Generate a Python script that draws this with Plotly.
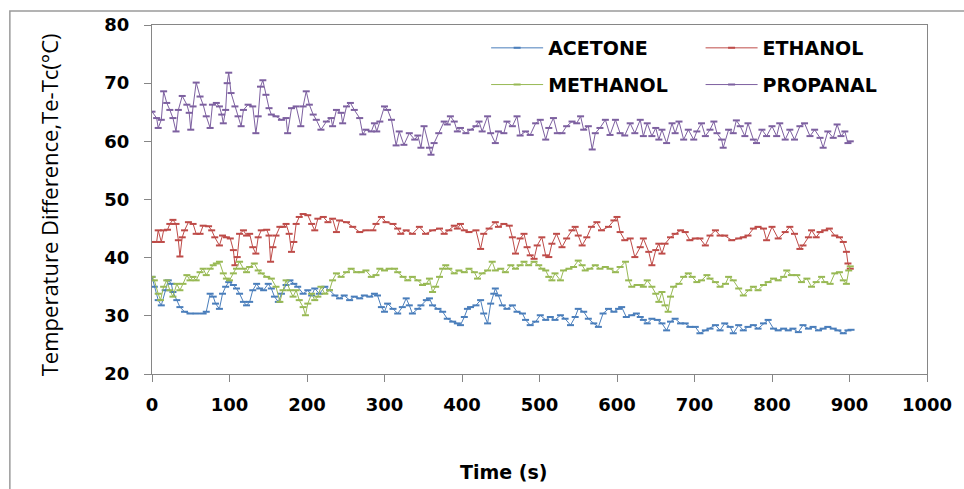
import plotly.graph_objects as go

# ---------------- data ----------------
acetone_t = [0,3,8,12,17,21,25,27,32,36,42,49,57,66,70,75,79,82,87,91,95,99,105,109,113,118,122,126,130,135,139,144,150,154,158,163,167,173,178,183,188,195,201,206,210,216,223,229,236,242,248,255,261,268,274,281,287,291,296,300,304,311,317,
             323,328,332,336,343,347,354,358,362,369,375,381,388,394,398,403,407,411,418,424,428,433,437,441,443,447,452,458,465,471,478,482,488,495,501,508,514,520,527,533,540,546,550,557,563,570,576,582,589,596,602,606,612,619,625,
             630,634,639,645,652,658,664,669,675,682,688,694,701,707,714,720,727,733,739,746,750,757,763,769,776,782,789,795,802,808,815,821,827,834,840,847,853,860,866,872,879,885,892,898,902]
acetone_v = [36.7,35.0,32.7,31.8,34.4,36.1,35.5,34.1,32.7,31.5,30.7,30.4,30.4,30.4,30.7,33.8,33.3,32.1,31.2,33.8,35.0,35.8,35.3,34.7,33.8,32.4,31.8,32.4,34.4,35.5,34.7,34.4,35.5,34.7,33.3,32.4,33.8,35.3,36.1,35.5,35.0,33.8,34.4,33.5,34.7,33.8,35.0,34.4,33.5,33.0,33.5,32.7,33.3,33.0,33.5,33.3,33.8,33.5,31.5,30.7,32.1,31.2,30.4,
             31.5,33.0,31.8,30.4,31.2,31.8,32.7,33.0,31.8,31.2,30.7,29.5,29.0,28.7,28.4,29.8,31.2,31.5,31.8,32.7,30.4,28.7,32.1,33.8,34.7,33.5,31.8,31.2,31.8,30.7,30.4,29.3,28.4,29.0,30.1,29.3,29.8,29.3,30.1,29.5,28.4,29.8,31.2,30.7,29.5,28.7,28.1,30.4,31.2,30.7,31.2,31.5,29.8,30.1,30.4,
             29.8,29.3,28.7,29.5,29.3,28.7,27.5,29.0,29.5,28.7,28.7,28.1,28.1,27.0,27.5,27.8,28.4,27.5,28.7,28.1,27.0,28.4,27.5,28.1,28.4,27.8,28.7,29.3,27.8,27.5,27.8,27.5,27.8,27.2,28.4,27.8,28.1,27.5,27.8,28.1,27.8,27.5,27.0,27.5,27.6]

ethanol_t = [0,6,8,12,15,20,23,27,31,34,36,39,42,47,53,57,62,66,73,77,81,87,91,96,101,105,107,110,113,118,122,126,130,134,137,141,148,151,153,156,160,165,169,173,177,180,183,186,190,195,201,206,210,214,221,227,233,238,242,251,259,268,276,285,289,296,302,311,317,
             321,328,336,345,353,362,371,377,383,390,394,398,403,409,418,424,428,435,443,447,454,461,465,469,475,480,484,488,493,497,503,508,512,516,522,529,535,542,546,550,555,561,567,574,580,589,596,600,604,610,617,623,630,
             634,641,645,650,654,658,662,669,675,682,688,694,701,707,714,720,727,733,739,748,757,763,769,776,782,789,793,800,808,817,823,829,836,840,847,851,857,862,868,874,881,887,892,896,898,901]
ethanol_v = [42.7,42.7,44.7,42.7,44.7,44.8,45.8,46.5,45.8,43.0,40.2,43.5,44.7,46.1,45.8,44.1,44.1,45.5,45.4,44.7,43.5,42.1,43.8,43.5,43.3,41.3,38.7,40.1,44.1,44.7,43.8,44.1,41.8,40.7,43.5,44.7,44.8,43.8,39.3,41.8,43.8,45.3,45.3,45.8,44.1,41.0,42.7,45.8,47.0,47.5,47.3,45.8,44.7,46.7,47.0,46.1,46.7,44.4,46.4,46.1,45.3,44.4,44.7,44.7,45.8,47.0,46.1,45.8,45.0,
             44.1,44.7,44.1,45.3,44.1,44.7,45.0,44.1,44.7,45.5,45.0,45.8,44.7,44.4,44.7,41.5,44.1,45.0,46.1,45.3,45.8,45.5,43.5,40.7,43.3,44.1,41.8,40.4,39.8,42.1,43.5,40.4,40.1,42.4,44.1,41.8,43.3,44.7,45.3,43.8,42.1,43.5,45.3,46.1,44.7,45.3,46.4,47.0,44.4,43.0,43.3,40.1,41.8,
             43.3,41.0,38.7,41.3,42.4,40.7,42.4,43.5,44.1,44.7,44.4,43.0,43.3,43.3,42.1,43.8,44.7,43.8,43.8,43.0,43.3,43.5,43.8,45.0,45.3,45.0,43.0,45.3,43.3,44.4,45.3,44.1,41.5,42.1,43.5,44.7,43.5,44.4,44.7,45.0,43.8,43.5,42.7,41.0,39.0,38.1]

methanol_t = [0,3,8,11,15,19,23,27,32,36,40,45,49,53,57,62,66,70,75,79,83,87,92,96,100,105,109,113,118,122,126,132,137,141,148,154,160,165,169,173,178,182,186,190,195,198,201,206,210,214,218,223,229,233,238,244,251,257,264,270,276,283,289,294,300,306,313,317,
              324,330,336,343,349,354,358,362,366,371,375,379,383,390,396,403,409,416,420,426,433,439,443,450,456,463,469,475,480,486,493,499,503,508,512,516,520,527,531,538,544,550,555,559,565,572,578,585,591,598,604,611,615,619,626,
              630,634,639,645,650,654,658,662,666,669,673,680,686,692,697,703,709,716,720,727,733,740,744,750,757,763,770,776,782,789,795,802,808,815,819,825,832,838,845,851,857,864,868,875,881,887,892,896,899,901]
methanol_v = [36.7,36.1,33.8,32.7,35.0,36.1,34.4,33.3,35.5,34.4,35.5,37.0,36.1,36.7,36.1,37.5,38.1,37.0,38.1,38.7,39.0,39.3,37.3,36.4,36.1,37.3,38.1,39.3,38.1,37.5,38.4,39.0,37.8,37.3,36.7,36.4,35.0,32.4,34.4,36.1,34.4,33.3,34.4,32.7,31.5,30.1,32.1,33.8,32.7,33.3,35.0,33.8,34.4,36.1,37.3,36.7,37.5,38.1,37.5,37.5,37.8,36.7,37.0,38.1,37.8,38.1,38.1,37.5,
              36.7,36.1,36.7,36.1,35.3,35.5,36.4,34.1,35.0,36.7,38.1,38.7,38.1,37.3,37.8,37.5,38.1,37.5,36.4,37.3,37.8,39.3,37.8,38.1,37.5,38.7,38.1,38.7,39.3,38.7,39.3,38.7,38.1,37.8,36.7,36.1,37.3,36.1,37.8,38.1,38.4,39.5,38.7,37.8,38.1,38.7,38.1,38.4,38.1,37.5,38.4,39.3,36.1,35.0,35.3,
              35.3,35.0,36.1,35.0,33.8,32.4,34.1,31.8,30.7,33.3,35.0,35.5,36.7,37.3,36.7,35.8,36.1,37.0,36.4,35.8,35.0,35.5,36.7,36.1,34.7,33.5,34.4,35.0,34.4,35.3,35.8,36.4,36.1,36.7,37.8,37.0,37.0,35.8,36.4,35.0,35.8,36.7,35.8,35.5,37.3,37.5,36.1,35.5,37.8,38.5]

propanal_t = [0,6,8,12,15,19,23,27,31,34,39,45,48,50,53,57,62,66,70,75,78,83,87,90,92,95,97,99,102,107,111,115,118,124,130,134,137,140,143,147,151,154,160,167,173,175,180,186,192,195,199,203,208,212,218,225,231,233,238,244,246,251,256,261,268,272,276,283,287,290,294,300,304,309,315,
              319,325,332,339,343,347,351,358,360,364,370,377,381,385,390,394,398,405,411,418,422,426,433,437,443,447,454,458,465,471,475,482,488,495,501,508,512,518,523,529,535,542,548,553,557,563,568,572,578,585,591,598,604,610,617,623,630,
              634,639,645,650,654,658,664,671,675,680,686,692,699,703,709,714,720,725,729,735,737,744,750,754,759,765,769,776,780,787,793,800,806,810,817,823,829,836,842,849,855,862,866,872,879,884,889,894,898,901]
propanal_v = [65.1,64.0,62.3,63.7,68.6,66.6,65.4,64.0,61.7,65.4,67.8,66.3,64.9,62.0,66.0,70.1,67.7,66.3,64.3,62.3,66.3,66.6,66.0,64.6,63.1,65.4,70.0,71.8,68.3,66.0,64.3,62.6,65.4,66.3,66.0,61.4,64.3,69.4,70.5,68.0,65.7,64.6,64.3,63.7,64.0,61.4,65.7,66.0,62.6,66.0,68.6,66.3,64.6,63.7,62.0,63.4,64.0,62.6,65.4,64.9,63.1,66.0,66.6,65.4,64.0,61.2,62.0,61.7,63.1,61.7,63.4,66.0,65.4,63.7,59.3,
              61.7,59.4,61.4,60.3,61.0,58.9,62.6,58.9,57.7,59.7,61.4,63.4,62.9,64.3,63.4,61.7,62.3,61.4,62.0,62.6,63.4,61.7,64.3,61.4,59.7,61.7,61.4,63.4,62.6,64.3,61.0,61.7,61.1,63.1,63.7,60.3,62.3,64.0,61.4,61.4,62.6,63.4,63.1,64.3,62.0,62.6,58.6,61.4,62.3,63.7,61.1,63.7,61.4,61.0,63.1,61.4,63.7,
              60.9,63.1,60.9,62.3,60.3,62.0,59.7,63.1,61.4,63.4,60.3,62.0,60.3,61.7,63.1,60.9,62.0,63.4,61.4,60.3,58.9,62.0,61.4,63.6,62.6,60.9,63.1,60.3,59.7,62.0,60.9,62.6,60.9,63.1,60.3,62.0,60.3,62.6,63.1,60.9,62.0,60.6,58.9,61.7,60.6,62.9,60.9,61.7,59.7,60.0]

series_names = ["ACETONE", "ETHANOL", "METHANOL", "PROPANAL"]
series_colors = ["#4A7EBB", "#BE4B48", "#98B954", "#7D60A0"]
x_ticks = [0, 100, 200, 300, 400, 500, 600, 700, 800, 900, 1000]
y_ticks = [20, 30, 40, 50, 60, 70, 80]

# ---------------- figure ----------------
W, H = 964, 489
ML, MR, MT, MB = 152, 35, 25, 115
PW, PH = W - ML - MR, H - MT - MB

def px_x(x):
    return (x - ML) / PW

def px_y(y):
    return (H - MB - y) / PH

fig = go.Figure()
data = [(acetone_t, acetone_v), (ethanol_t, ethanol_v), (methanol_t, methanol_v), (propanal_t, propanal_v)]
legends = ["legend", "legend2", "legend", "legend2"]
for (t, v), name, col, lg in zip(data, series_names, series_colors, legends):
    fig.add_trace(go.Scatter(
        x=t, y=v, name=name, mode="lines+markers",
        line=dict(color=col, width=1),
        marker=dict(symbol="line-ew", size=5, color=col, line=dict(color=col, width=2)),
        legend=lg, legendgroup=name,
    ))

tick_font = dict(family="DejaVu Sans", size=18, color="#000000", weight="bold")
legend_font = dict(family="DejaVu Sans", size=19, color="#000000", weight="bold")
fig.update_layout(
    width=W, height=H,
    margin=dict(l=ML, r=MR, t=MT, b=MB, pad=0),
    paper_bgcolor="white", plot_bgcolor="white",
    showlegend=True,
    legend=dict(x=px_x(487), y=px_y(29), xanchor="left", yanchor="top",
                font=legend_font, itemwidth=52, tracegroupgap=9, bgcolor="rgba(0,0,0,0)"),
    legend2=dict(x=px_x(702), y=px_y(29), xanchor="left", yanchor="top",
                 font=legend_font, itemwidth=52, tracegroupgap=9, bgcolor="rgba(0,0,0,0)"),
    xaxis=dict(range=[0, 1000], tickvals=x_ticks, ticks="outside", ticklen=7,
               tickcolor="#868686", showline=True, linecolor="#868686", linewidth=1,
               mirror=True, showgrid=False, zeroline=False,
               tickfont=tick_font, ticklabelstandoff=7),
    yaxis=dict(range=[20, 80], tickvals=y_ticks, ticks="outside", ticklen=7,
               tickcolor="#868686", showline=True, linecolor="#868686", linewidth=1,
               mirror=True, showgrid=False, zeroline=False,
               tickfont=tick_font, ticklabelstandoff=11),
)

# axis titles
fig.add_annotation(text="Time (s)", xref="paper", yref="paper", x=px_x(504), y=px_y(472),
                   xanchor="center", yanchor="middle", showarrow=False,
                   font=dict(family="DejaVu Sans", size=19, color="#000000", weight="bold"))
fig.add_annotation(text="Temperature Difference,Te-Tc(°C)", xref="paper", yref="paper",
                   x=px_x(49), y=px_y(205), xanchor="center", yanchor="middle", textangle=-90,
                   showarrow=False, font=dict(family="Open Sans", size=22, color="#000000"))

# outer chart frame
fig.add_shape(type="rect", xref="paper", yref="paper",
              x0=px_x(9.5), x1=px_x(975), y0=px_y(500), y1=px_y(11),
              line=dict(color="#9A9A9A", width=1.5), fillcolor="rgba(0,0,0,0)", layer="below")

fig.write_html("out.html")
